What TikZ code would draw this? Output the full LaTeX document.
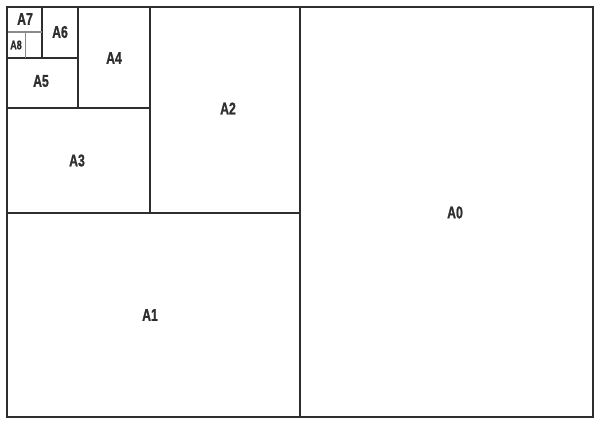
\documentclass[tikz,border=0pt]{standalone}
\usepackage{fontspec}
\setmainfont{Liberation Sans}
\newfontfamily\labfont{Liberation Sans Bold}[FakeBold=1.2]
\definecolor{ln}{HTML}{2E2E2E}
\definecolor{ln2}{HTML}{8A8A8A}
\begin{document}
\begin{tikzpicture}[x=1pt,y=-1pt,
  edge/.style={draw=ln,line width=2pt},
  thin/.style={draw=ln2,line width=1.4pt},
  lab/.style={text=ln,inner sep=0pt,font=\labfont\fontsize{17}{17}\selectfont,xscale=0.72},
  labs/.style={text=ln,inner sep=0pt,font=\labfont\fontsize{12.5}{12.5}\selectfont,xscale=0.72}]
\useasboundingbox (0,0) rectangle (600,424);
\fill[white] (0,0) rectangle (600,424);
% lines
\draw[edge] (300,7) -- (300,417);
\draw[edge] (7,212.5) -- (300,212.5);
\draw[edge] (150,7) -- (150,212.5);
\draw[edge] (7,108) -- (150,108);
\draw[edge] (78,7) -- (78,108);
\draw[edge] (7,57.5) -- (78,57.5);
\draw[edge] (42,7) -- (42,57.5);
\draw[thin] (7,32) -- (42,32);
\draw[thin] (25.5,32) -- (25.5,57.5);
\draw[edge] (7,7) rectangle (593,417);
% labels
\node[lab] (a0) at (455,212.5) {A0};
\node[lab] (a1) at (150,315) {A1};
\node[lab] (a2) at (228,108.5) {A2};
\node[lab] (a3) at (77,160.5) {A3};
\node[lab] (a4) at (114,58) {A4};
\node[lab] (a5) at (41,81) {A5};
\node[lab] (a6) at (60,32) {A6};
\node[lab] (a7) at (25,19) {A7};
\node[labs] (a8) at (16,45) {A8};
\end{tikzpicture}
\end{document}
